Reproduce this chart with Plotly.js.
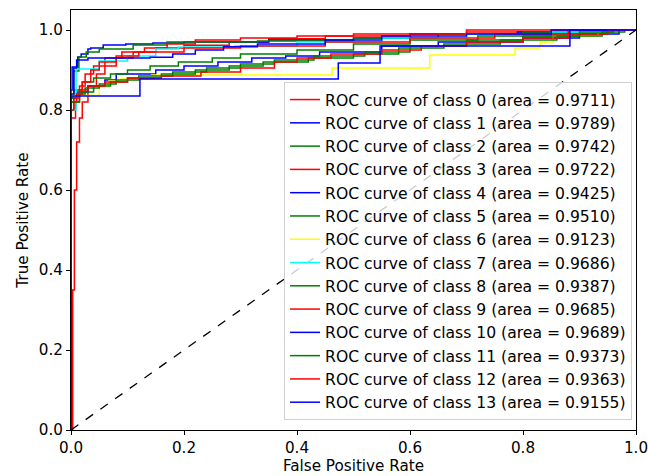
<!DOCTYPE html>
<html>
<head>
<meta charset="utf-8">
<script src="https://cdn.plot.ly/plotly-3.0.1.min.js"></script>
<style>html,body{margin:0;padding:0;background:#fff;}#chart{width:648px;height:476px;}</style>
</head>
<body>
<div id="chart"></div>
<script>
// ROC data (fpr / tpr step vertices)
const classNames = ["0","1","2","3","4","5","6","7","8","9","10","11","12","13"];
const areas = [0.9711,0.9789,0.9742,0.9722,0.9425,0.9510,0.9123,0.9686,0.9387,0.9685,0.9689,0.9373,0.9363,0.9155];
const colors = ["red","blue","green","red","blue","green","yellow","cyan","green","red","blue","green","red","blue"];

const fpr0 = [0,0.003,0.003,0.006,0.01,0.015,0.02,0.03,0.045,0.06,0.08,0.11,0.15,0.2,0.28,0.35,0.45,0.6,0.7,0.85,1];
const tpr0 = [0,0.12,0.35,0.6,0.72,0.78,0.82,0.86,0.89,0.91,0.93,0.945,0.955,0.962,0.97,0.978,0.985,0.99,0.995,1.0,1];

const fpr1 = [0,0,0.002,0.012,0.018,0.03,0.035,0.057,0.097,0.145,0.2,0.35,0.5,0.6,0.79,0.88,1];
const tpr1 = [0,0.85,0.9075,0.9325,0.94,0.9525,0.955,0.9625,0.965,0.9675,0.97,0.975,0.98,0.99,0.995,1.0,1];

const fpr2 = [0,0,0.005,0.014,0.027,0.05,0.11,0.17,0.33,0.5,0.65,0.8,0.9,1];
const tpr2 = [0,0.8,0.8975,0.9325,0.945,0.9525,0.9625,0.97,0.9725,0.98,0.99,0.995,1.0,1];

const fpr3 = [0,0,0.008,0.015,0.025,0.04,0.06,0.09,0.13,0.17,0.22,0.3,0.4,0.5,0.7,1];
const tpr3 = [0,0.78,0.82,0.86,0.89,0.91,0.93,0.945,0.955,0.965,0.975,0.98,0.985,0.99,1.0,1];

const fpr4 = [0,0,0.01,0.03,0.06,0.08,0.15,0.2,0.26,0.32,0.38,0.44,0.55,0.65,0.8,0.9,0.97,1];
const tpr4 = [0,0.83,0.845,0.86,0.875,0.89,0.9,0.91,0.92,0.93,0.935,0.945,0.96,0.97,0.98,0.99,1.0,1];

const fpr5 = [0,0,0.005,0.02,0.04,0.07,0.1,0.14,0.19,0.25,0.3,0.4,0.5,0.6,0.72,0.85,0.95,1];
const tpr5 = [0,0.835,0.85,0.87,0.88,0.89,0.9,0.91,0.92,0.93,0.94,0.95,0.965,0.975,0.985,0.99,1.0,1];

const fpr6 = [0,0,0.05,0.067,0.088,0.143,0.462,0.635,0.786,0.83,0.853,0.933,0.966,1];
const tpr6 = [0,0.836,0.8575,0.8725,0.8775,0.8875,0.905,0.9375,0.955,0.97,0.985,0.9975,1.0,1];

const fpr7 = [0,0,0.009,0.05,0.1,0.15,0.19,0.29,0.4,0.55,0.7,0.85,0.95,1];
const tpr7 = [0,0.8,0.9025,0.9225,0.935,0.9525,0.9575,0.96,0.97,0.98,0.99,0.995,1.0,1];

const fpr8 = [0,0,0.01,0.025,0.05,0.08,0.12,0.18,0.24,0.3,0.36,0.43,0.52,0.6,0.7,0.8,0.9,0.96,1];
const tpr8 = [0,0.83,0.84,0.855,0.865,0.875,0.885,0.895,0.905,0.915,0.925,0.935,0.945,0.96,0.975,0.985,0.995,1.0,1];

const fpr9 = [0,0,0.01,0.02,0.035,0.05,0.08,0.12,0.2,0.3,0.45,0.6,0.75,0.88,1];
const tpr9 = [0,0.82,0.84,0.87,0.9,0.92,0.935,0.945,0.955,0.96,0.97,0.98,0.99,1.0,1];

const fpr10 = [0,0,0.005,0.01,0.03,0.14,0.18,0.22,0.27,0.33,0.45,0.55,0.7,0.85,1];
const tpr10 = [0,0.84,0.905,0.925,0.93,0.932,0.94,0.95,0.958,0.965,0.975,0.985,0.99,1.0,1];

const fpr11 = [0,0,0.015,0.04,0.07,0.1,0.16,0.22,0.28,0.34,0.42,0.5,0.58,0.66,0.76,0.86,0.94,0.98,1];
const tpr11 = [0,0.82,0.845,0.86,0.87,0.88,0.89,0.9,0.91,0.92,0.93,0.94,0.955,0.965,0.975,0.985,0.995,1.0,1];

const fpr12 = [0,0,0.005,0.015,0.03,0.06,0.1,0.16,0.23,0.3,0.36,0.4,0.46,0.55,0.62,0.7,0.8,0.88,0.95,1];
const tpr12 = [0,0.8,0.83,0.85,0.86,0.87,0.88,0.885,0.895,0.905,0.92,0.93,0.94,0.95,0.96,0.97,0.98,0.99,1.0,1];

const fpr13 = [0,0,0.122,0.473,0.547,0.883,1];
const tpr13 = [0,0.835,0.8775,0.9175,0.96,1.0,1];

const fprs = [fpr0,fpr1,fpr2,fpr3,fpr4,fpr5,fpr6,fpr7,fpr8,fpr9,fpr10,fpr11,fpr12,fpr13];
const tprs = [tpr0,tpr1,tpr2,tpr3,tpr4,tpr5,tpr6,tpr7,tpr8,tpr9,tpr10,tpr11,tpr12,tpr13];

const diagX = [0,1];
const diagY = [0,1];
const tickValues = [0,0.2,0.4,0.6,0.8,1.0];
const tickLabels = ['0.0','0.2','0.4','0.6','0.8','1.0'];

const traces = classNames.map((c,i) => ({
  x: fprs[i], y: tprs[i], type: 'scatter', mode: 'lines',
  line: {color: colors[i], width: 1.5, shape: 'hv'},
  name: 'ROC curve of class ' + c + ' (area = ' + areas[i].toFixed(4) + ')'
}));
traces.push({
  x: diagX, y: diagY, type: 'scatter', mode: 'lines',
  line: {color: 'black', width: 1.3, dash: 'dash'},
  showlegend: false, hoverinfo: 'skip'
});

const axisFont = {family: 'DejaVu Sans', size: 15.2, color: '#000'};
const layout = {
  width: 648, height: 476,
  margin: {l: 71, r: 12, t: 10, b: 46},
  paper_bgcolor: '#fff', plot_bgcolor: '#fff',
  font: {family: 'DejaVu Sans', size: 15.2, color: '#000'},
  showlegend: true,
  xaxis: {
    range: [0, 1], tickvals: tickValues, ticktext: tickLabels,
    showline: true, mirror: true, linecolor: '#000', linewidth: 1,
    ticks: 'outside', ticklen: 4, tickcolor: '#000', ticklabeloverflow: 'allow',
    showgrid: false, zeroline: false, tickfont: axisFont,
    title: {text: 'False Positive Rate', font: axisFont, standoff: 2}
  },
  yaxis: {
    range: [0, 1.05], tickvals: tickValues, ticktext: tickLabels,
    showline: true, mirror: true, linecolor: '#000', linewidth: 1,
    ticks: 'outside', ticklen: 4, tickcolor: '#000',
    showgrid: false, zeroline: false, tickfont: axisFont,
    title: {text: 'True Positive Rate', font: axisFont, standoff: 6}
  },
  legend: {
    x: 0.993, y: 0.024, xanchor: 'right', yanchor: 'bottom',
    bgcolor: 'rgba(255,255,255,0.8)', bordercolor: '#d0d0d0', borderwidth: 1,
    font: {family: 'DejaVu Sans', size: 15.6, color: '#000'},
    tracegroupgap: 0, itemwidth: 30
  }
};

Plotly.newPlot('chart', traces, layout, {displayModeBar: false, staticPlot: true});
</script>
</body>
</html>
